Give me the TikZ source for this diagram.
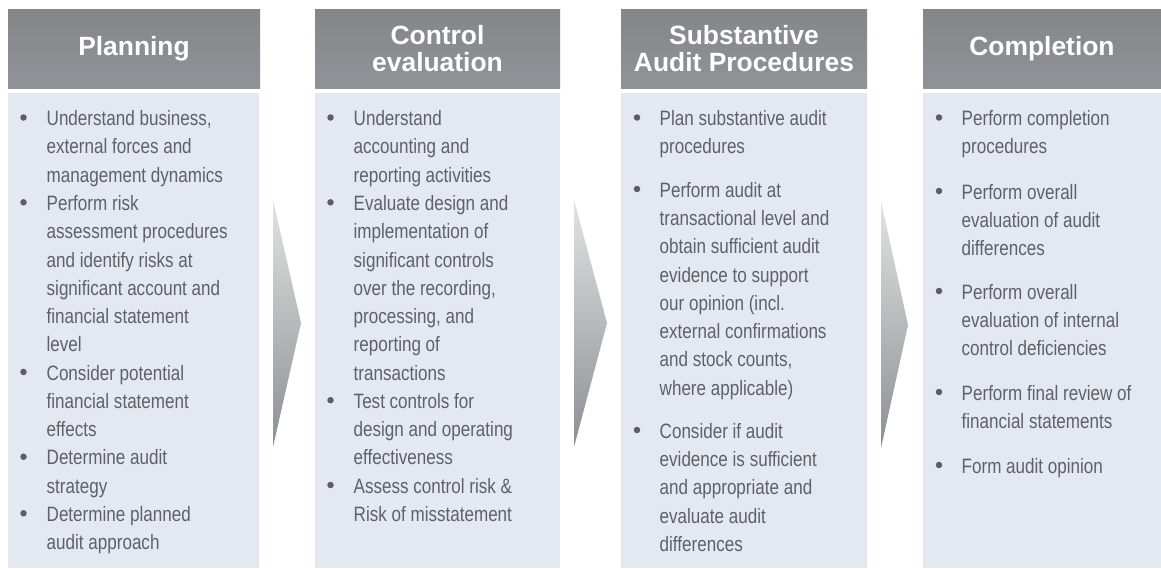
\documentclass[tikz,border=0pt]{standalone}
\usepackage{fontspec}
\setmainfont{Liberation Sans}[FakeStretch=0.82]
\newfontfamily\headfamily{Liberation Sans}
\definecolor{bodyc}{RGB}{228,232,241}
\definecolor{txtc}{RGB}{94,97,102}
\definecolor{bulc}{RGB}{92,94,99}
\definecolor{headtop}{RGB}{132,134,138}
\definecolor{headbot}{RGB}{143,146,150}
\definecolor{arrtop}{RGB}{226,226,226}
\definecolor{arrbot}{RGB}{140,143,148}
\newcommand{\bodyfont}{\fontsize{20.8}{28.27}\selectfont}
\newcommand{\firststrut}{\rule{0pt}{20pt}}
\begin{document}
\begin{tikzpicture}[x=1pt,y=-1pt,
  head/.style={top color=headtop, bottom color=headbot, draw=none, inner sep=0,
    text=white, align=center, font=\headfamily\bfseries\fontsize{26.4}{27}\selectfont},
  bodybox/.style={fill=bodyc, draw=none, inner sep=0, anchor=north west},
  itemtxt/.style={anchor=north west, inner sep=0, align=left, font=\bodyfont, text=txtc},
  bul/.style={circle, fill=bulc, inner sep=0, minimum size=6.5pt},
  arrowshape/.style={top color=arrtop, bottom color=arrbot, draw=none}]
\useasboundingbox (0,0) rectangle (1161,568);
\fill[white] (0,0) rectangle (1161,568);

% headers
\node[head, minimum width=252pt, minimum height=79pt] (h1) at (134,48.5) {Planning};
\node[head, minimum width=245pt, minimum height=79pt] (h2) at (437.5,48.5) {Control\\evaluation};
\node[head, minimum width=246pt, minimum height=79pt] (h3) at (744,48.5) {Substantive\\Audit Procedures};
\node[head, minimum width=238pt, minimum height=79pt] (h4) at (1042,48.5) {Completion};

% bodies
\node[bodybox, minimum width=251pt, minimum height=475pt] (b1) at (8,93) {};
\node[bodybox, minimum width=245pt, minimum height=475pt] (b2) at (315,93) {};
\node[bodybox, minimum width=246pt, minimum height=475pt] (b3) at (621,93) {};
\node[bodybox, minimum width=238pt, minimum height=475pt] (b4) at (923,93) {};

% arrows
\shade[arrowshape] (273,200) -- (301,323) -- (273,447) -- cycle;
\shade[arrowshape] (574,200) -- (607,323) -- (574,447) -- cycle;
\shade[arrowshape] (881,201) -- (908,325) -- (881,448) -- cycle;

% Planning
\node[itemtxt] (p1) at (46.5,{125.5-20}) {\firststrut Understand business,\\external forces and\\management dynamics};
\node[itemtxt] (p2) at (46.5,{125.5+3*28.27-20}) {\firststrut Perform risk\\assessment procedures\\and identify risks at\\significant account and\\financial statement\\level};
\node[itemtxt] (p3) at (46.5,{125.5+9*28.27-20}) {\firststrut Consider potential\\financial statement\\effects};
\node[itemtxt] (p4) at (46.5,{125.5+12*28.27-20}) {\firststrut Determine audit\\strategy};
\node[itemtxt] (p5) at (46.5,{125.5+14*28.27-20}) {\firststrut Determine planned\\audit approach};
\foreach \k in {0,3,9,12,14} \node[bul] at (23.5,{125.5+\k*28.27-8}) {};

% Control evaluation
\node[itemtxt] (c1) at (353.5,{125.5-20}) {\firststrut Understand\\accounting and\\reporting activities};
\node[itemtxt] (c2) at (353.5,{125.5+3*28.27-20}) {\firststrut Evaluate design and\\implementation of\\significant controls\\over the recording,\\processing, and\\reporting of\\transactions};
\node[itemtxt] (c3) at (353.5,{125.5+10*28.27-20}) {\firststrut Test controls for\\design and operating\\effectiveness};
\node[itemtxt] (c4) at (353.5,{125.5+13*28.27-20}) {\firststrut Assess control risk \&\\Risk of misstatement};
\foreach \k in {0,3,10,13} \node[bul] at (330.5,{125.5+\k*28.27-8}) {};

% Substantive
\node[itemtxt] (s1) at (659.5,{125.5-20}) {\firststrut Plan substantive audit\\procedures};
\node[itemtxt] (s2) at (659.5,{197-20}) {\firststrut Perform audit at\\transactional level and\\obtain sufficient audit\\evidence to support\\our opinion (incl.\\external confirmations\\and stock counts,\\where applicable)};
\node[itemtxt] (s3) at (659.5,{438-20}) {\firststrut Consider if audit\\evidence is sufficient\\and appropriate and\\evaluate audit\\differences};
\foreach \y in {125.5,197,438} \node[bul] at (637,{\y-8}) {};

% Completion
\node[itemtxt] (q1) at (961.5,{125.5-20}) {\firststrut Perform completion\\procedures};
\node[itemtxt] (q2) at (961.5,{199-20}) {\firststrut Perform overall\\evaluation of audit\\differences};
\node[itemtxt] (q3) at (961.5,{299-20}) {\firststrut Perform overall\\evaluation of internal\\control deficiencies};
\node[itemtxt] (q4) at (961.5,{400-20}) {\firststrut Perform final review of\\financial statements};
\node[itemtxt] (q5) at (961.5,{473-20}) {\firststrut Form audit opinion};
\foreach \y in {125.5,199,299,400,473} \node[bul] at (939,{\y-8}) {};
\end{tikzpicture}
\end{document}
